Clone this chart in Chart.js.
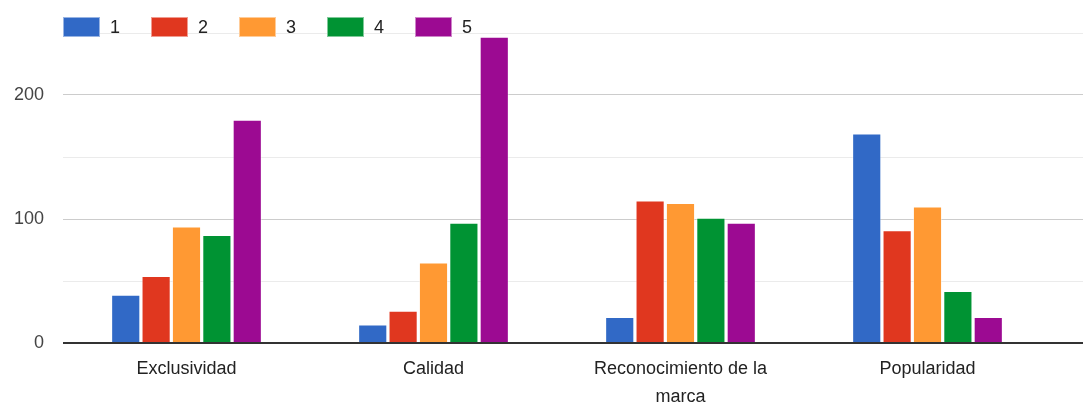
<!DOCTYPE html>
<html>
<head>
<meta charset="utf-8">
<script src="https://cdn.jsdelivr.net/npm/chart.js@4.4.1/dist/chart.umd.min.js"></script>
<style>
    html, body { margin: 0; padding: 0; background: #fff; }
    #wrap { position: relative; width: 1083px; height: 404px; }
    #legend {
        position: absolute; left: 63px; top: 17px;
        display: flex; font-family: "Liberation Sans", Arial, sans-serif;
        font-size: 18px; color: #222;
    }
    .legend-item { display: flex; align-items: center; width: 88px; height: 20px; }
    .legend-box { width: 37px; height: 20px; box-sizing: border-box; border: 1px solid rgba(255,255,255,0.5); }
    .legend-text { margin-left: 10px; line-height: 20px; }
</style>
</head>
<body>
<div id="wrap">
    <canvas id="ratingChart" width="1083" height="404"></canvas>
    <div id="legend"></div>
</div>
<script>
// Categories and rating counts (1-5)
const categories = ['Exclusividad', 'Calidad', ['Reconocimiento de la', 'marca'], 'Popularidad'];
const ratingLabels = ['1', '2', '3', '4', '5'];
const rating1 = [39, 15, 21, 169];
const rating2 = [54, 26, 115, 91];
const rating3 = [94, 65, 113, 110];
const rating4 = [87, 97, 101, 42];
const rating5 = [180, 247, 97, 21];
const ratingColors = ['#3169c6', '#e0371f', '#ff9933', '#009333', '#9c0a92'];

const seriesValues = [rating1, rating2, rating3, rating4, rating5];

const FONT = '"Liberation Sans", Arial, sans-serif';

// Gridlines run past the last category to the right edge of the canvas
const extendGrid = {
    id: 'extendGrid',
    beforeDatasetsDraw(chart) {
        const { ctx, chartArea, scales } = chart;
        const yScale = scales.y;
        ctx.save();
        yScale.ticks.forEach(tick => {
            const width = tick.value === 0 ? 2 : 1;
            // same half-pixel snapping the scale uses for its own grid
            const y = Math.round(yScale.getPixelForValue(tick.value) - width / 2) + width / 2;
            ctx.beginPath();
            ctx.lineWidth = width;
            ctx.strokeStyle = gridColor(tick.value);
            ctx.moveTo(chartArea.right, y);
            ctx.lineTo(chart.width, y);
            ctx.stroke();
        });
        ctx.restore();
    }
};

function gridColor(value) {
    if (value === 0) return '#333333';
    return value % 100 === 0 ? '#cccccc' : '#ebebeb';
}

function buildLegend() {
    const legend = document.getElementById('legend');
    ratingLabels.forEach((label, i) => {
        const item = document.createElement('div');
        item.className = 'legend-item';
        const box = document.createElement('span');
        box.className = 'legend-box';
        box.style.background = ratingColors[i];
        const text = document.createElement('span');
        text.className = 'legend-text';
        text.textContent = label;
        item.appendChild(box);
        item.appendChild(text);
        legend.appendChild(item);
    });
}

function initChart() {
    const ctx = document.getElementById('ratingChart').getContext('2d');
    new Chart(ctx, {
        type: 'bar',
        data: {
            labels: categories,
            datasets: seriesValues.map((values, i) => ({
                label: ratingLabels[i],
                data: values,
                backgroundColor: ratingColors[i],
                borderColor: 'rgba(255,255,255,0.45)',
                borderWidth: 1,
                categoryPercentage: 0.615,
                barPercentage: 0.96
            }))
        },
        options: {
            responsive: false,
            animation: false,
            layout: { padding: { top: 33, right: 32, bottom: 0, left: 0 } },
            plugins: {
                legend: { display: false },
                tooltip: { enabled: false }
            },
            scales: {
                x: {
                    grid: { display: false, drawTicks: false },
                    border: { display: false },
                    ticks: {
                        padding: 12,
                        color: '#222',
                        font: { family: FONT, size: 18, lineHeight: '28px' },
                        maxRotation: 0,
                        autoSkip: false
                    },
                    afterFit(scale) { scale.height = 61; }
                },
                y: {
                    min: 0,
                    max: 250,
                    grid: {
                        drawTicks: false,
                        color: c => gridColor(c.tick.value),
                        lineWidth: c => (c.tick.value === 0 ? 2 : 1)
                    },
                    border: { display: false },
                    ticks: {
                        stepSize: 50,
                        padding: 19,
                        color: '#444',
                        font: { family: FONT, size: 18 },
                        callback: v => (v % 100 === 0 ? v : '')
                    },
                    afterFit(scale) { scale.width = 63; }
                }
            }
        },
        plugins: [extendGrid]
    });
}

document.addEventListener('DOMContentLoaded', () => {
    buildLegend();
    initChart();
});
</script>
</body>
</html>
